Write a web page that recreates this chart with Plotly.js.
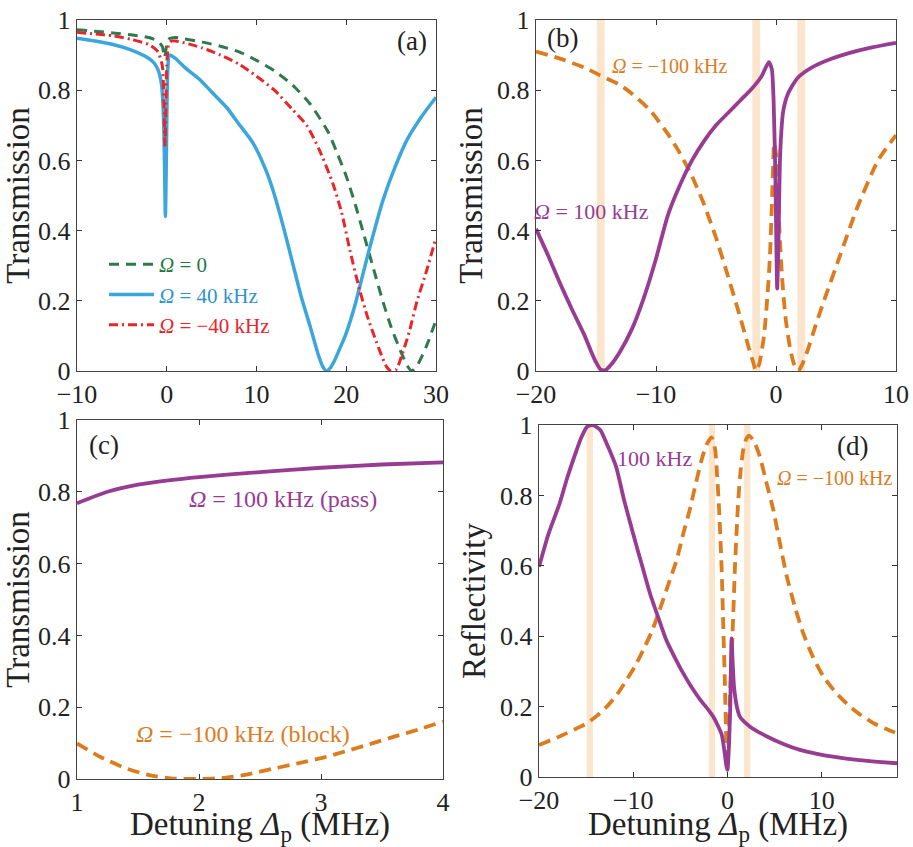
<!DOCTYPE html>
<html>
<head>
<meta charset="utf-8">
<script src="https://cdn.plot.ly/plotly-3.0.1.min.js"></script>
<style>html,body{margin:0;padding:0;background:#fff;}#chart{width:913px;height:847px;}</style>
</head>
<body>
<div id="chart"></div>
<script>
// ---------- Panel (a): transmission vs detuning (MHz) ----------
const aGreenX = [-10,-8,-6,-4,-2,-1,-0.5,-0.25,0,0.2,1,2,4,6,8,10,12,14,16,18,19,20,21,22,23,24,25,26,26.8,27.3,28,29,30];
const aGreenY = [0.972,0.968,0.963,0.958,0.950,0.940,0.925,0.893,0.930,0.945,0.950,0.946,0.937,0.925,0.910,0.885,0.855,0.815,0.760,0.680,0.620,0.555,0.475,0.385,0.295,0.205,0.125,0.060,0.015,0.0,0.020,0.075,0.145];

const aRedX = [-10,-8,-6,-4,-2,-1,-0.5,-0.3,-0.2,-0.1,0,0.2,0.5,1,2,4,6,8,10,12,14,15.6,17,18.5,19.5,20.4,21.5,22.3,23,24,24.5,25,25.6,26,27,27.9,29,30];
const aRedY = [0.965,0.960,0.955,0.945,0.930,0.910,0.870,0.750,0.640,0.750,0.870,0.930,0.940,0.940,0.935,0.920,0.900,0.875,0.840,0.800,0.745,0.700,0.630,0.535,0.450,0.345,0.230,0.160,0.108,0.040,0.012,0.0,0.005,0.030,0.110,0.200,0.290,0.380];

const aBlueX = [-10,-8,-6,-4,-2.5,-1.5,-1,-0.6,-0.4,-0.25,-0.15,-0.05,0.1,0.3,1,2,3.7,5,6.7,8,9.6,11,11.9,13,14.1,15,16,16.9,17.4,17.8,18.2,18.7,19.3,20,21,21.5,22.5,24.1,25.5,26.8,28.4,30];
const aBlueY = [0.948,0.940,0.930,0.915,0.898,0.880,0.860,0.820,0.750,0.600,0.440,0.600,0.850,0.900,0.890,0.865,0.830,0.795,0.750,0.705,0.650,0.575,0.510,0.410,0.300,0.210,0.125,0.045,0.012,0.0,0.008,0.030,0.065,0.108,0.190,0.240,0.340,0.487,0.585,0.660,0.725,0.780];

// ---------- Panel (b): transmission ----------
const bPurpleX = [-20,-19,-18,-17,-16,-15.4,-15.0,-14.6,-14.2,-13.7,-13,-12,-11,-10,-9,-8,-7,-6,-5,-4,-3,-2,-1.2,-0.6,-0.35,-0.2,-0.05,0.1,0.2,0.35,0.6,1,1.8,3,4.5,6,8,10];
const bPurpleY = [0.405,0.330,0.250,0.175,0.105,0.055,0.025,0.004,0.003,0.020,0.055,0.120,0.210,0.320,0.445,0.530,0.600,0.655,0.700,0.735,0.770,0.805,0.840,0.880,0.860,0.770,0.550,0.235,0.360,0.620,0.740,0.790,0.835,0.865,0.888,0.905,0.922,0.935];

const bOrangeX = [-20,-18,-16,-14.7,-13,-12,-10.5,-9,-8,-7,-6,-5,-4,-3,-2.3,-1.9,-1.67,-1.4,-1.0,-0.7,-0.5,-0.3,-0.15,0.0,0.15,0.3,0.5,0.8,1.2,1.5,1.86,2.2,2.65,3.3,4.0,5.4,6.8,8.5,10];
const bOrangeY = [0.910,0.890,0.865,0.843,0.815,0.790,0.743,0.675,0.620,0.555,0.475,0.380,0.270,0.155,0.070,0.025,0.0,0.020,0.100,0.220,0.330,0.520,0.650,0.620,0.520,0.390,0.270,0.150,0.060,0.020,0.0,0.020,0.060,0.130,0.200,0.335,0.468,0.600,0.672];

// ---------- Panel (c): transmission, zoomed ----------
const cPurpleX = [1,1.25,1.5,1.75,2,2.5,3,3.5,4];
const cPurpleY = [0.768,0.800,0.820,0.832,0.841,0.855,0.867,0.876,0.882];
const cOrangeX = [1,1.2,1.4,1.6,1.8,2.0,2.2,2.4,2.6,2.8,3.0,3.2,3.4,3.6,3.8,4.0];
const cOrangeY = [0.099,0.060,0.030,0.010,0.001,0.0,0.003,0.013,0.028,0.043,0.058,0.077,0.097,0.118,0.138,0.160];

// ---------- Panel (d): reflectivity ----------
const dPurpleX = [-20,-19,-17.8,-17,-16,-15.5,-14.9,-14.3,-13.5,-12.7,-11.8,-11,-10,-9,-8.2,-7.3,-6.5,-5.5,-4.7,-3.8,-2.9,-2,-1.5,-1.0,-0.6,-0.3,-0.1,0.0,0.15,0.3,0.44,0.55,0.7,1.0,1.33,2.4,4.2,6,7.7,9.5,11.2,14,16,18];
const dPurpleY = [0.597,0.690,0.778,0.850,0.929,0.965,0.995,1.0,0.986,0.940,0.880,0.790,0.690,0.595,0.520,0.450,0.390,0.335,0.295,0.255,0.220,0.190,0.171,0.145,0.120,0.070,0.030,0.020,0.080,0.200,0.394,0.330,0.257,0.200,0.171,0.143,0.115,0.093,0.077,0.066,0.058,0.048,0.043,0.039];

const dOrangeX = [-20,-18,-17.1,-16,-14.9,-13.8,-12.8,-11.7,-10.7,-9.8,-8.95,-8,-7.2,-6.3,-5.4,-4.7,-4.0,-3.3,-2.75,-2.2,-1.68,-1.3,-1.15,-0.9,-0.62,-0.45,-0.27,-0.12,0,0.12,0.27,0.4,0.55,0.8,1.0,1.15,1.4,1.68,2.0,2.28,2.8,3.45,4.1,4.87,5.6,6.3,7.2,8.05,9.1,10.2,11.5,13,14.2,15.5,16.8,18];
const dOrangeY = [0.091,0.113,0.124,0.138,0.153,0.175,0.200,0.235,0.276,0.315,0.360,0.415,0.474,0.545,0.616,0.690,0.759,0.840,0.900,0.945,0.965,0.930,0.880,0.770,0.597,0.440,0.266,0.100,0.030,0.100,0.220,0.320,0.410,0.597,0.710,0.787,0.870,0.929,0.960,0.970,0.955,0.910,0.840,0.759,0.660,0.570,0.480,0.408,0.340,0.285,0.240,0.200,0.175,0.153,0.137,0.124];

// highlighted detuning positions (vertical bands) in (b) and (d)
const bandCenters = [-14.6, -1.65, 2.1];

// tick labels
const yTickVals = [0,0.2,0.4,0.6,0.8,1];
const yTickText = ['0','0.2','0.4','0.6','0.8','1'];
const aTicks = [-10,0,10,20,30];
const bTicks = [-20,-10,0,10];
const cTicks = [1,2,3,4];
const dTicks = [-20,-10,0,10];

// ---------- styling ----------
const FONT = '"Liberation Serif", "Times New Roman", serif';
const GREEN = '#2f7a4c', BLUE = '#3aa6db', RED = '#e8262a';
const PURPLE = '#973c92', ORANGE = '#dc7c1f', BAND = 'rgba(248,214,172,0.6)';
const TICKFONT = 26, TITLEFONT = 33, W = 913, H = 847;

const px = v => v / W;
const py = v => 1 - v / H;

function xax(dom, ticks, range, anchor, title) {
  const o = {domain: dom, range: range, anchor: anchor, tickvals: ticks,
    ticks: 'inside', ticklen: 5, tickcolor: '#333', mirror: 'allticks',
    showline: true, linecolor: '#444', linewidth: 1.2, showgrid: false, zeroline: false,
    tickfont: {family: FONT, size: TICKFONT, color: '#222'}};
  if (title) o.title = {text: title, font: {family: FONT, size: TITLEFONT, color: '#222'}, standoff: 3};
  return o;
}
function yax(dom, anchor, title) {
  return {domain: dom, range: [0,1.0], anchor: anchor, tickvals: yTickVals, ticktext: yTickText,
    ticks: 'inside', ticklen: 5, tickcolor: '#333', mirror: 'allticks',
    showline: true, linecolor: '#444', linewidth: 1.2, showgrid: false, zeroline: false,
    tickfont: {family: FONT, size: TICKFONT, color: '#222'},
    title: {text: title, font: {family: FONT, size: TITLEFONT, color: '#222'}, standoff: 4}};
}

const SPL = {shape: 'spline', smoothing: 0.6};
const traces = [
  {x: aGreenX, y: aGreenY, xaxis: 'x', yaxis: 'y', mode: 'lines', name: '<span style="color:#1f7a45"><i>Ω</i> = 0</span>',
   line: Object.assign({color: GREEN, width: 3, dash: '10px,7px'}, SPL)},
  {x: aBlueX, y: aBlueY, xaxis: 'x', yaxis: 'y', mode: 'lines', name: '<span style="color:#2f93d2"><i>Ω</i> = 40 kHz</span>',
   line: Object.assign({color: BLUE, width: 3.5}, SPL)},
  {x: aRedX, y: aRedY, xaxis: 'x', yaxis: 'y', mode: 'lines', name: '<span style="color:' + RED + '"><i>Ω</i> = −40 kHz</span>',
   line: Object.assign({color: RED, width: 3, dash: '9px,4px,2px,4px'}, SPL)},
  {x: bOrangeX, y: bOrangeY, xaxis: 'x2', yaxis: 'y2', mode: 'lines', showlegend: false,
   line: Object.assign({color: ORANGE, width: 3.8, dash: '12px,7px'}, SPL)},
  {x: bPurpleX, y: bPurpleY, xaxis: 'x2', yaxis: 'y2', mode: 'lines', showlegend: false,
   line: Object.assign({color: PURPLE, width: 3.8}, SPL)},
  {x: cPurpleX, y: cPurpleY, xaxis: 'x3', yaxis: 'y3', mode: 'lines', showlegend: false,
   line: Object.assign({color: PURPLE, width: 3.8}, SPL)},
  {x: cOrangeX, y: cOrangeY, xaxis: 'x3', yaxis: 'y3', mode: 'lines', showlegend: false,
   line: Object.assign({color: ORANGE, width: 3.8, dash: '12px,7px'}, SPL)},
  {x: dOrangeX, y: dOrangeY, xaxis: 'x4', yaxis: 'y4', mode: 'lines', showlegend: false,
   line: Object.assign({color: ORANGE, width: 3.8, dash: '12px,7px'}, SPL)},
  {x: dPurpleX, y: dPurpleY, xaxis: 'x4', yaxis: 'y4', mode: 'lines', showlegend: false,
   line: Object.assign({color: PURPLE, width: 3.8}, SPL)}
];

const shapes = [];
bandCenters.forEach(c => {
  ['x2','x4'].forEach((xr, i) => {
    shapes.push({type: 'rect', xref: xr, yref: i === 0 ? 'y2' : 'y4', x0: c - 0.33, x1: c + 0.33, y0: 0, y1: 1,
      fillcolor: BAND, line: {width: 0}, layer: 'below'});
  });
});

function ann(xr, yr, x, y, text, size, color, xanchor) {
  return {xref: xr, yref: yr, x: x, y: y, text: text, showarrow: false, xanchor: xanchor || 'center', yanchor: 'middle',
    font: {family: FONT, size: size, color: color}};
}
const annotations = [
  ann('x', 'y', 27.3, 0.94, '(a)', 27, '#222'),
  ann('x2', 'y2', -17.8, 0.95, '(b)', 27, '#222'),
  ann('x3', 'y3', 1.22, 0.93, '(c)', 27, '#222'),
  ann('x4', 'y4', 13.3, 0.94, '(d)', 27, '#222'),
  ann('x2', 'y2', -8.9, 0.87, '<i>Ω</i> = −100 kHz', 20, ORANGE),
  ann('x2', 'y2', -15.4, 0.455, '<i>Ω</i> = 100 kHz', 22, PURPLE),
  ann('x3', 'y3', 2.69, 0.78, '<i>Ω</i> = 100 kHz (pass)', 24, PURPLE),
  ann('x3', 'y3', 2.36, 0.125, '<i>Ω</i> = −100 kHz (block)', 24, ORANGE),
  ann('x4', 'y4', -7.7, 0.905, '100 kHz', 22, PURPLE),
  ann('x4', 'y4', 11.4, 0.85, '<i>Ω</i> = −100 kHz', 20, ORANGE)
];

const layout = {
  width: W, height: H, margin: {l: 0, r: 0, t: 0, b: 0},
  paper_bgcolor: '#fff', plot_bgcolor: '#fff',
  font: {family: FONT, color: '#222'},
  showlegend: true,
  legend: {x: px(104), y: py(244), xanchor: 'left', yanchor: 'top', bgcolor: 'rgba(0,0,0,0)',
    font: {family: FONT, size: 21}, tracegroupgap: 0, itemwidth: 45},
  xaxis: xax([px(77), px(436)], aTicks, [-10,30], 'y'),
  yaxis: yax([py(371), py(20)], 'x', 'Transmission'),
  xaxis2: xax([px(536), px(896)], bTicks, [-20,10], 'y2'),
  yaxis2: yax([py(371), py(20)], 'x2', 'Transmission'),
  xaxis3: xax([px(77), px(443)], cTicks, [1,4], 'y3', 'Detuning <i>Δ</i><sub>p</sub> (MHz)'),
  yaxis3: yax([py(779), py(420)], 'x3', 'Transmission'),
  xaxis4: xax([px(539), px(897)], dTicks, [-20,18], 'y4', 'Detuning <i>Δ</i><sub>p</sub> (MHz)'),
  yaxis4: yax([py(777), py(425)], 'x4', 'Reflectivity'),
  shapes: shapes,
  annotations: annotations
};

Plotly.newPlot('chart', traces, layout, {displayModeBar: false, staticPlot: true});
</script>
</body>
</html>
